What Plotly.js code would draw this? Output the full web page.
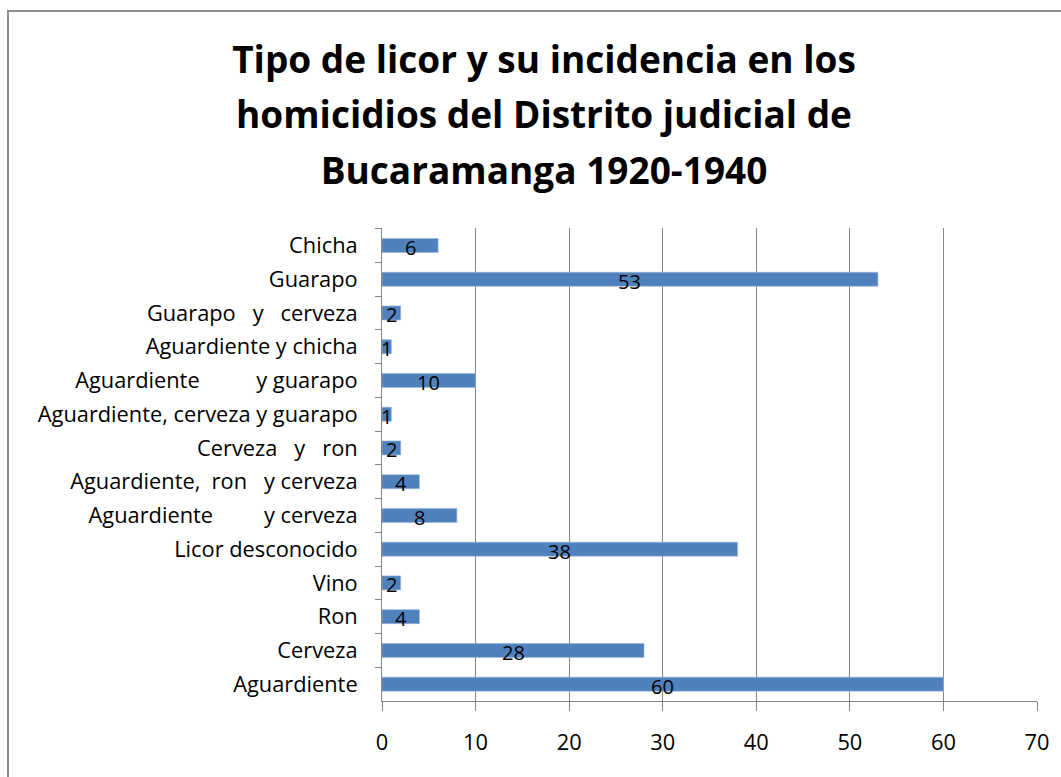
<!DOCTYPE html>
<html>
<head>
<meta charset="utf-8">
<script src="https://cdn.plot.ly/plotly-3.0.1.min.js"></script>
<style>
  html, body { margin: 0; padding: 0; background: #fff; overflow: hidden; }
  #chart { width: 1061px; height: 777px; position: absolute; left: 0; top: 0; }
  #frame { position: absolute; left: 7px; top: 10px; width: 1200px; height: 900px;
           border: 2px solid #8e8e8e; pointer-events: none; box-sizing: border-box; }
</style>
</head>
<body>
<div id="chart"></div>
<div id="frame"></div>
<script>
// Categories listed top to bottom as in the chart
const categories = [
  "Chicha",
  "Guarapo",
  "Guarapo\u00a0\u00a0 y \u00a0\u00a0cerveza",
  "Aguardiente y chicha",
  "Aguardiente\u00a0\u00a0\u00a0\u00a0\u00a0\u00a0\u00a0\u00a0\u00a0 y guarapo",
  "Aguardiente, cerveza y guarapo",
  "Cerveza\u00a0\u00a0 y \u00a0\u00a0ron",
  "Aguardiente,\u00a0 ron\u00a0\u00a0 y cerveza",
  "Aguardiente\u00a0\u00a0\u00a0\u00a0\u00a0\u00a0\u00a0\u00a0 y cerveza",
  "Licor desconocido",
  "Vino",
  "Ron",
  "Cerveza",
  "Aguardiente"
];
const values = [6, 53, 2, 1, 10, 1, 2, 4, 8, 38, 2, 4, 28, 60];
const xTicks = [0, 10, 20, 30, 40, 50, 60, 70];
const titleLines = [
  "Tipo de licor y su incidencia en los",
  "homicidios del Distrito judicial de",
  "Bucaramanga 1920-1940"
];

const gray = '#868686';
const tickFont = { family: 'Open Sans, sans-serif', size: 21.8, color: '#000' };

const trace = {
  type: 'bar',
  orientation: 'h',
  x: values,
  y: categories,
  marker: { color: '#4F81BD', line: { color: '#9db7d9', width: 0.6 } },
  hoverinfo: 'x+y'
};

const labels = values.map((v, i) => ({
  x: v / 2,
  y: categories[i],
  xref: 'x',
  yref: 'y',
  text: String(v),
  showarrow: false,
  yshift: -2,
  font: { family: 'Open Sans, sans-serif', size: 20, color: '#000' }
}));

const layout = {
  width: 1061,
  height: 777,
  paper_bgcolor: '#fff',
  plot_bgcolor: '#fff',
  margin: { l: 382, r: 24, t: 228, b: 76 },
  bargap: 0.585,
  showlegend: false,
  title: {
    text: titleLines.map(s => '<span style="font-size:37px">' + s + '</span>').join('<br>'),
    font: { family: 'Open Sans, sans-serif', size: 42.5, color: '#000', weight: 'bold' },
    xref: 'container',
    yref: 'container',
    x: 544 / 1061,
    xanchor: 'center',
    y: 1 - 73 / 777,
    yanchor: 'top'
  },
  xaxis: {
    range: [0, 70],
    tickvals: xTicks,
    ticktext: xTicks.map(String),
    showgrid: true,
    gridcolor: gray,
    gridwidth: 1,
    zeroline: false,
    showline: true,
    linecolor: gray,
    linewidth: 1,
    ticks: 'outside',
    ticklen: 9,
    tickcolor: gray,
    ticklabelstandoff: 13,
    tickfont: tickFont,
    fixedrange: true
  },
  yaxis: {
    type: 'category',
    autorange: 'reversed',
    tickson: 'boundaries',
    ticks: 'outside',
    ticklen: 6,
    tickcolor: gray,
    showline: true,
    linecolor: gray,
    linewidth: 1,
    showgrid: false,
    zeroline: false,
    ticklabelstandoff: 19,
    tickfont: tickFont,
    fixedrange: true
  },
  annotations: labels
};

Plotly.newPlot('chart', [trace], layout, { displayModeBar: false, staticPlot: true });
</script>
</body>
</html>
